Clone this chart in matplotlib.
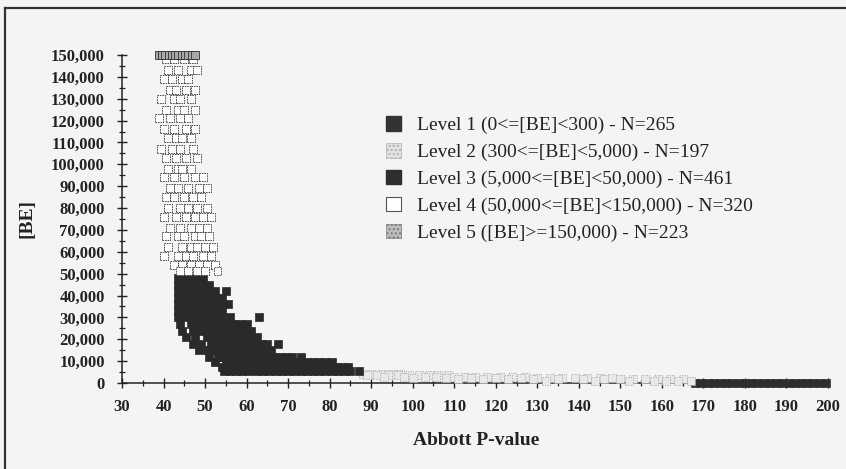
import matplotlib
import matplotlib.pyplot as plt
from matplotlib.lines import Line2D
from matplotlib.patches import Patch
from matplotlib.ticker import MultipleLocator, StrMethodFormatter

matplotlib.use("Agg")

# rows of (BE value, [Abbott P-values])
LEVEL1_ROWS = [
    (150, [168, 169.5, 171, 172.5, 174, 175.5, 177, 178.5, 180, 181.5, 183,
           184.5, 186, 187.5, 189, 190.5, 192, 193.5, 195, 196.5, 198, 199.5]),
]
LEVEL2_ROWS = [
    (4200, [88, 90, 92.5, 95, 97]),
    (3500, [89, 91.5, 94, 96.5, 99, 101.5, 104, 106, 108.5]),
    (2800, [93, 98, 103, 105.5, 110, 112.5, 115, 118, 121, 124, 127]),
    (2200, [100, 108, 114, 120, 126, 130, 133, 136, 139, 142, 145, 148]),
    (1600, [111, 117, 123, 129, 135, 141, 146, 150, 153, 156, 159, 162, 165]),
    (1000, [132, 144, 152, 158, 161, 164, 167]),
]
LEVEL3_ROWS = [
    (48000, [43.5, 45, 46.5, 48, 49.5]),
    (45000, [43.5, 45, 46.5, 48, 49.5, 51]),
    (42000, [43.5, 45, 46.5, 48, 49.5, 51, 52.5, 55]),
    (39000, [43.5, 45, 46.5, 48, 49.5, 51, 52.5, 54]),
    (36000, [43.5, 45, 46.5, 48, 49.5, 51, 52.5, 54, 55.5]),
    (33000, [43.5, 45, 46.5, 48, 49.5, 51, 52.5, 54]),
    (30000, [43.5, 45, 46.5, 48, 49.5, 51, 52.5, 54, 56, 63]),
    (27000, [44, 46.5, 48, 49.5, 51, 52.5, 54, 55.5, 57, 58.5, 60]),
    (24000, [44.5, 47, 49, 50.5, 52, 53.5, 55, 56.5, 58, 59.5, 61]),
    (21000, [45.5, 47.5, 50.5, 52, 53.5, 55, 56.5, 58, 59.5, 61, 62.5]),
    (18000, [47, 49, 51.5, 53, 54.5, 56, 57.5, 59, 60.5, 62, 63.5, 65, 67.5]),
    (15000, [48.5, 50.5, 52.5, 54, 55.5, 57, 58.5, 60, 61.5, 63, 64.5, 66]),
    (12000, [51, 53, 54.5, 56, 57.5, 59, 60.5, 62, 63.5, 65, 66.5, 68, 69.5,
             71, 73]),
    (9500, [52.5, 55, 56.5, 58, 59.5, 61, 62.5, 64, 65.5, 67, 68.5, 70, 71.5,
            73, 74.5, 76, 77.5, 79, 80.5]),
    (7500, [54, 56, 57.5, 59, 60.5, 62, 63.5, 65, 66.5, 68, 69.5, 71, 72.5,
            74, 75.5, 77, 78.5, 80, 81.5, 83, 84.5]),
    (5500, [54.5, 56, 57.5, 59, 60.5, 62.5, 64, 65.5, 67, 68.5, 70, 71.5, 73,
            74.5, 76, 77.5, 79, 80.5, 82, 83.5, 85, 87]),
]
LEVEL4_ROWS = [
    (148000, [40.5, 42.5, 45.0, 47.0]),
    (143000, [41.0, 43.5, 46.5, 48.0]),
    (139000, [40.0, 42.0, 44.5, 46.0]),
    (134000, [41.5, 43.0, 45.5, 47.5]),
    (130000, [39.5, 42.5, 44.0, 46.5]),
    (125000, [40.5, 43.5, 45.0, 47.5]),
    (121000, [38.8, 41.5, 44.0, 46.0]),
    (116000, [40.0, 42.5, 45.5, 47.5]),
    (112000, [41.0, 43.0, 44.5, 46.5]),
    (107000, [39.5, 42.0, 44.0, 47.0]),
    (103000, [40.5, 43.0, 45.5, 48.0]),
    (98000, [41.0, 43.5, 44.5, 46.5]),
    (94000, [40.0, 42.5, 45.0, 47.5, 49.5]),
    (89000, [41.5, 43.5, 46.0, 48.5, 50.5]),
    (85000, [40.5, 42.5, 45.0, 47.0, 49.0]),
    (80000, [41.0, 44.0, 46.0, 48.0, 50.5]),
    (76000, [40.0, 43.0, 45.5, 47.5, 49.5, 51.5]),
    (71000, [41.5, 44.0, 46.5, 48.5, 50.5]),
    (67000, [40.5, 43.5, 45.0, 47.5, 49.0, 51.0]),
    (62000, [41.0, 44.5, 46.5, 48.0, 50.0, 52.0]),
    (58000, [40.0, 43.5, 45.5, 47.0, 49.5, 51.5]),
    (54000, [42.5, 44.5, 46.5, 48.5, 50.5, 52.5]),
    (51000, [44.0, 46.0, 48.0, 50.0, 53.0]),
]
LEVEL5_ROWS = [
    (150000, [38.8, 39.6, 40.4, 41.2, 42.0, 42.8, 43.6, 44.4, 45.2, 46.0,
              46.8, 47.6]),
]

LABELS = [
    "Level 1 (0<=[BE]<300) - N=265",
    "Level 2 (300<=[BE]<5,000) - N=197",
    "Level 3 (5,000<=[BE]<50,000) - N=461",
    "Level 4 (50,000<=[BE]<150,000) - N=320",
    "Level 5 ([BE]>=150,000) - N=223",
]

BG = "#f4f5f2"
INK = "#222222"


def _flatten(rows):
    xs, ys = [], []
    for y, row in rows:
        xs.extend(row)
        ys.extend([y] * len(row))
    return xs, ys


plt.rcParams["font.family"] = ["Liberation Serif", "DejaVu Serif"]

fig = plt.figure(figsize=(8.46, 4.69), dpi=100, facecolor=BG)
ax = fig.add_axes([0.1442, 0.1834, 0.8345, 0.6994], facecolor=BG)

styles = [
    dict(c="#2e2e2e", edgecolors="#2e2e2e", linewidths=0.5),
    dict(c="#e8e8e6", edgecolors="#a8a8a8", linewidths=0.6, linestyle=(0, (1.5, 1.5))),
    dict(c="#2a2a2a", edgecolors="#2a2a2a", linewidths=0.5),
    dict(c="white", edgecolors="#3a3a3a", linewidths=0.6, linestyle=(0, (2, 1))),
    dict(c="#a9a9a9", edgecolors="#333333", linewidths=0.6),
]
for rows, st in zip([LEVEL1_ROWS, LEVEL2_ROWS, LEVEL3_ROWS, LEVEL4_ROWS, LEVEL5_ROWS], styles):
    xs, ys = _flatten(rows)
    ax.scatter(xs, ys, s=33, marker="s", clip_on=False, zorder=3, **st)

ax.set_xlim(30, 200)
ax.set_ylim(0, 150000)
for side in ("top", "right"):
    ax.spines[side].set_visible(False)
for side in ("left", "bottom"):
    ax.spines[side].set_color(INK)
    ax.spines[side].set_linewidth(1.1)

ax.xaxis.set_major_locator(MultipleLocator(10))
ax.xaxis.set_minor_locator(MultipleLocator(5))
ax.yaxis.set_major_locator(MultipleLocator(10000))
ax.yaxis.set_minor_locator(MultipleLocator(5000))
ax.yaxis.set_major_formatter(StrMethodFormatter("{x:,.0f}"))
ax.tick_params(which="major", direction="inout", length=7, width=1.0, color=INK,
               labelsize=12, labelcolor=INK)
ax.tick_params(which="minor", direction="inout", length=5, width=0.9, color=INK)
ax.tick_params(axis="y", which="major", pad=9)
ax.tick_params(axis="x", which="major", pad=8)
for lab in ax.get_xticklabels() + ax.get_yticklabels():
    lab.set_fontweight("bold")

ax.set_xlabel("Abbott P-value", fontsize=14, fontweight="bold", color=INK, va="center")
ax.xaxis.set_label_coords(0.501, -0.174)
ax.set_ylabel("[BE]", fontsize=14, fontweight="bold", color=INK, va="center")
ax.yaxis.set_label_coords(-0.1346, 0.5)

handles = [
    Patch(facecolor="#333333", edgecolor="#333333"),
    Patch(facecolor="#e2e2e2", edgecolor="#b0b0b0", hatch="....", linewidth=0.5),
    Patch(facecolor="#2e2e2e", edgecolor="#2e2e2e"),
    Patch(facecolor="white", edgecolor="#555555", linewidth=0.8),
    Patch(facecolor="#bdbdbd", edgecolor="#7a7a7a", hatch="....", linewidth=0.5),
]
fig.legend(handles, LABELS, loc="upper left", bbox_to_anchor=(386 / 846, 1 - 116 / 469),
           frameon=False, fontsize=14, handlelength=0.78, handleheight=0.78,
           handletextpad=0.8, labelspacing=0.45, borderpad=0, borderaxespad=0,
           labelcolor=INK)

# scanned page frame: top and left edges only
fig.add_artist(Line2D([5 / 846, 1], [1 - 8 / 469, 1 - 8 / 469], color="#333333", lw=1.6))
fig.add_artist(Line2D([5 / 846, 5 / 846], [0, 1 - 8 / 469], color="#333333", lw=1.6))

fig.savefig("out.png", dpi=100, facecolor=BG)
